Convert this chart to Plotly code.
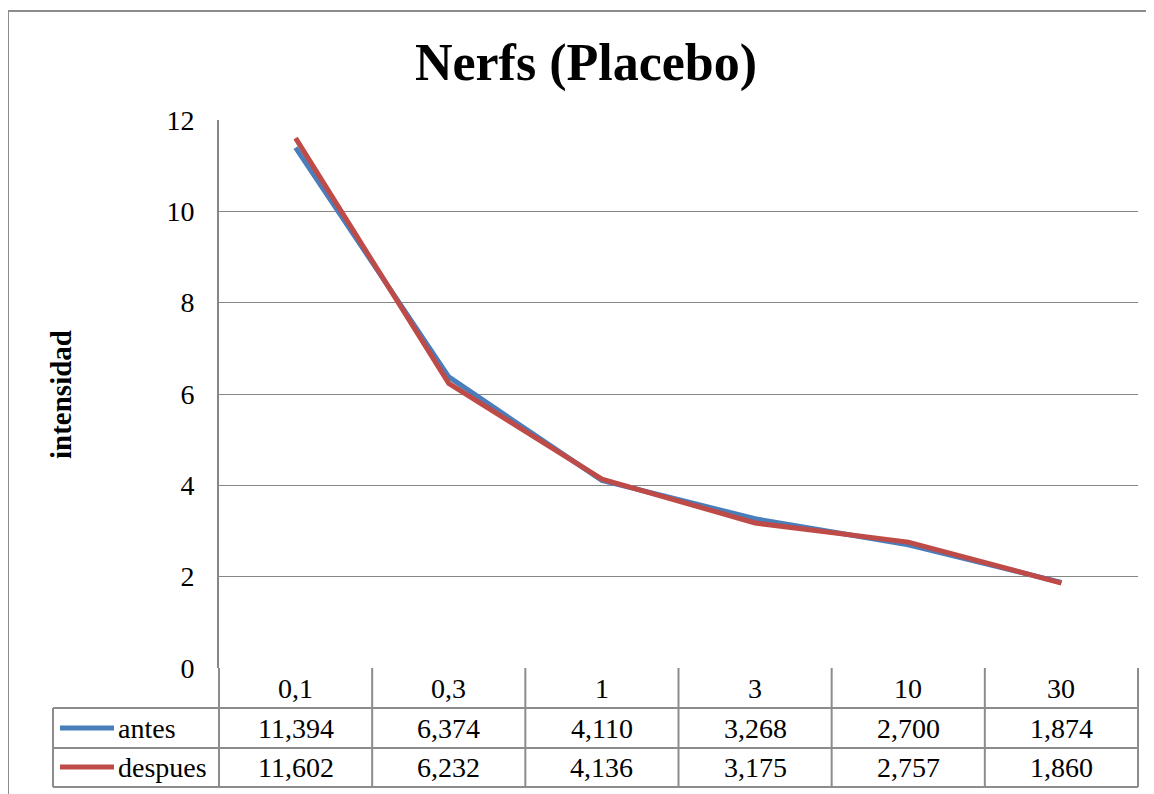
import plotly.graph_objects as go

# ---- data ----
categories = ["0,1", "0,3", "1", "3", "10", "30"]
antes = [11.394, 6.374, 4.110, 3.268, 2.700, 1.874]
despues = [11.602, 6.232, 4.136, 3.175, 2.757, 1.860]
series_names = ["antes", "despues"]
y_ticks = [0, 2, 4, 6, 8, 10, 12]

title_text = "Nerfs (Placebo)"
y_title = "intensidad"

# ---- styles ----
OFF = 8  # page body margin
W, H = 1154 - OFF, 794 - OFF
# reference-pixel plot area
RL, RR, RT, RB = 219, 1138, 120, 668
L, T = RL - OFF, RT - OFF
R = W - (RR - OFF)
B = H - (RB - OFF)
PW, PH = W - L - R, H - T - B
colors = ["#4A7EBB", "#BE4B48"]
grid_col = "#868686"
tbl_col = "#8C8C8C"
FONT = "Liberation Serif"

def px(x):  # reference x pixel -> paper
    return (x - OFF - L) / PW

def py(y):  # reference y pixel -> paper
    return (H - B - (y - OFF)) / PH

fig = go.Figure()
for name, vals, col in zip(series_names, [antes, despues], colors):
    fig.add_trace(go.Scatter(
        x=categories, y=vals, mode="lines", name=name,
        line=dict(color=col, width=5), showlegend=False,
    ))

shapes = []
annotations = []

# outer chart frame (left and top edges visible)
shapes.append(dict(type="line", xref="paper", yref="paper",
                   x0=px(8), x1=px(8), y0=py(11), y1=py(830),
                   line=dict(color="#8C8C8C", width=2)))
shapes.append(dict(type="line", xref="paper", yref="paper",
                   x0=px(8), x1=px(1200), y0=py(11), y1=py(11),
                   line=dict(color="#8C8C8C", width=2)))

# data table geometry (reference pixels)
n = len(categories)
col_w = (RR - RL) / n
col_edges = [RL + i * col_w for i in range(n + 1)]
tbl_left = 53
row_top, row1, row2, row_bot = RB, 708, 748, 787

for xe in col_edges:
    shapes.append(dict(type="line", xref="paper", yref="paper",
                       x0=px(xe), x1=px(xe), y0=py(row_top), y1=py(row_bot),
                       line=dict(color=tbl_col, width=2)))
shapes.append(dict(type="line", xref="paper", yref="paper",
                   x0=px(tbl_left), x1=px(tbl_left), y0=py(row1), y1=py(row_bot),
                   line=dict(color=tbl_col, width=2)))
for yy in [row1, row2, row_bot]:
    shapes.append(dict(type="line", xref="paper", yref="paper",
                       x0=px(tbl_left), x1=px(RR), y0=py(yy), y1=py(yy),
                       line=dict(color=tbl_col, width=2)))

FS = 28
for i, c in enumerate(categories):
    annotations.append(dict(x=px(col_edges[i] + col_w / 2), y=py((row_top + row1) / 2),
                            xref="paper", yref="paper", text=c, showarrow=False,
                            font=dict(family=FONT, size=FS, color="black"),
                            xanchor="center", yanchor="middle"))

row_centers = [728, 767]
for r, (name, vals, col) in enumerate(zip(series_names, [antes, despues], colors)):
    yc = row_centers[r]
    shapes.append(dict(type="line", xref="paper", yref="paper",
                       x0=px(60), x1=px(114), y0=py(yc), y1=py(yc),
                       line=dict(color=col, width=5)))
    annotations.append(dict(x=px(116), y=py(yc), xref="paper", yref="paper",
                            text=name, showarrow=False,
                            font=dict(family=FONT, size=FS, color="black"),
                            xanchor="left", yanchor="middle"))
    for i, v in enumerate(vals):
        txt = f"{v:.3f}".replace(".", ",")
        annotations.append(dict(x=px(col_edges[i] + col_w / 2), y=py(yc),
                                xref="paper", yref="paper", text=txt, showarrow=False,
                                font=dict(family=FONT, size=FS, color="black"),
                                xanchor="center", yanchor="middle"))

annotations.append(dict(x=px(61), y=py(395), xref="paper", yref="paper",
                        text=f"<b>{y_title}</b>", showarrow=False, textangle=-90,
                        font=dict(family=FONT, size=29, color="black"),
                        xanchor="center", yanchor="middle"))

fig.update_layout(
    width=W, height=H,
    margin=dict(l=L, r=R, t=T, b=B),
    paper_bgcolor="white", plot_bgcolor="white",
    title=dict(text=f"<b>{title_text}</b>", x=(586 - OFF) / W, xanchor="center",
               y=1 - (62 - OFF) / H, yanchor="middle",
               font=dict(family=FONT, size=52, color="black")),
    xaxis=dict(type="category", range=[-0.5, n - 0.5], showticklabels=False,
               showgrid=False, zeroline=False, showline=False, ticks=""),
    yaxis=dict(range=[0, 12], tickvals=y_ticks, ticktext=[str(t) for t in y_ticks],
               showgrid=True, gridcolor=grid_col, gridwidth=1.3,
               zeroline=False, showline=True, linecolor=grid_col, linewidth=2,
               ticks="", ticklabelstandoff=17,
               tickfont=dict(family=FONT, size=FS, color="black")),
    shapes=shapes, annotations=annotations,
)

fig.write_html("out.html")
